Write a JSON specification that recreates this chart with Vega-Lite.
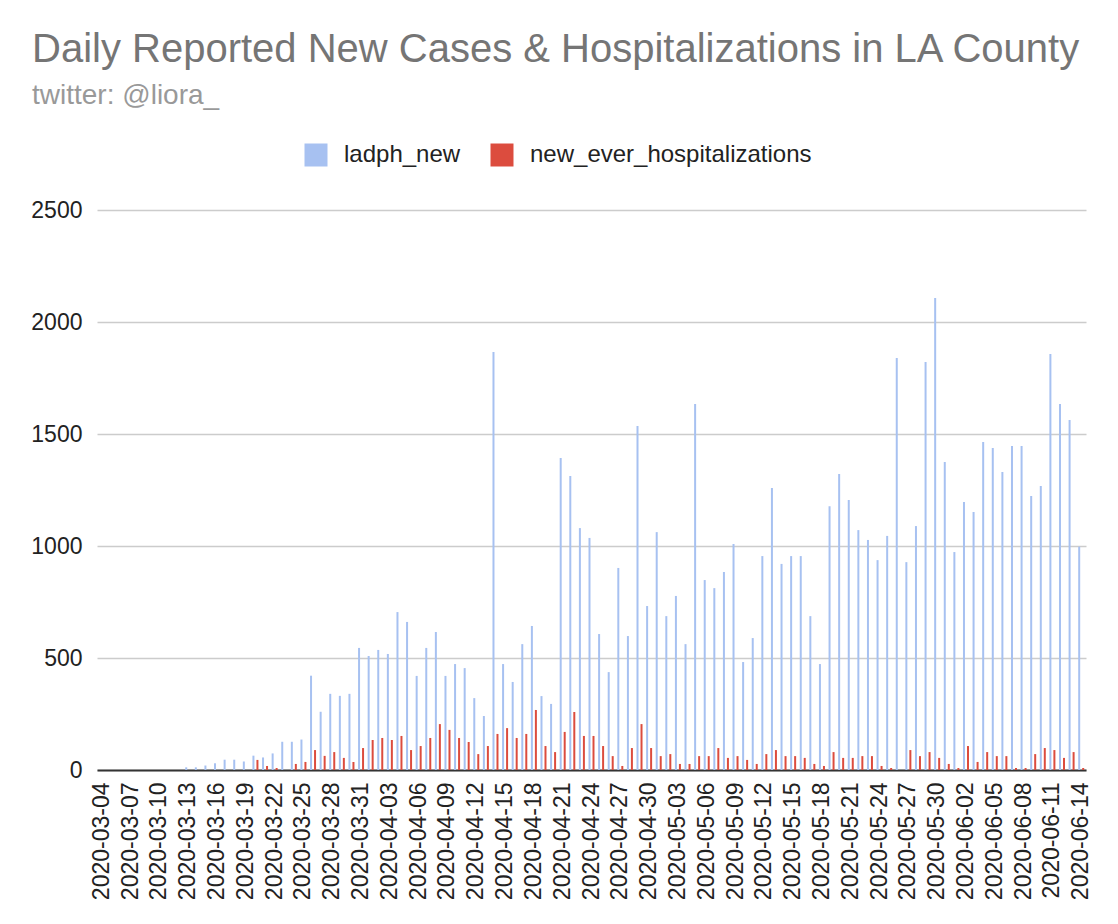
{
  "$schema": "https://vega.github.io/schema/vega-lite/v6.json",
  "autosize": "none",
  "width": 989,
  "height": 560,
  "padding": {"left": 97, "top": 210, "right": 32, "bottom": 154},
  "background": "white",
  "title": {
    "text": "Daily Reported New Cases & Hospitalizations in LA County",
    "subtitle": "twitter: @liora_",
    "anchor": "start",
    "frame": "group",
    "dx": -65,
    "offset": 33,
    "font": "Liberation Sans",
    "fontSize": 40,
    "fontWeight": "normal",
    "color": "#757575",
    "subtitleFont": "Liberation Sans",
    "subtitleFontSize": 28,
    "subtitleColor": "#999999",
    "subtitlePadding": 12
  },
  "data": {
    "values": [
      {"date": "2020-03-04", "series": "ladph_new", "value": 0}, {"date": "2020-03-04", "series": "new_ever_hospitalizations", "value": 0},
      {"date": "2020-03-05", "series": "ladph_new", "value": 0}, {"date": "2020-03-05", "series": "new_ever_hospitalizations", "value": 0},
      {"date": "2020-03-06", "series": "ladph_new", "value": 0}, {"date": "2020-03-06", "series": "new_ever_hospitalizations", "value": 0},
      {"date": "2020-03-07", "series": "ladph_new", "value": 0}, {"date": "2020-03-07", "series": "new_ever_hospitalizations", "value": 0},
      {"date": "2020-03-08", "series": "ladph_new", "value": 0}, {"date": "2020-03-08", "series": "new_ever_hospitalizations", "value": 0},
      {"date": "2020-03-09", "series": "ladph_new", "value": 0}, {"date": "2020-03-09", "series": "new_ever_hospitalizations", "value": 0},
      {"date": "2020-03-10", "series": "ladph_new", "value": 0}, {"date": "2020-03-10", "series": "new_ever_hospitalizations", "value": 0},
      {"date": "2020-03-11", "series": "ladph_new", "value": 0}, {"date": "2020-03-11", "series": "new_ever_hospitalizations", "value": 0},
      {"date": "2020-03-12", "series": "ladph_new", "value": 0}, {"date": "2020-03-12", "series": "new_ever_hospitalizations", "value": 0},
      {"date": "2020-03-13", "series": "ladph_new", "value": 12}, {"date": "2020-03-13", "series": "new_ever_hospitalizations", "value": 0},
      {"date": "2020-03-14", "series": "ladph_new", "value": 12}, {"date": "2020-03-14", "series": "new_ever_hospitalizations", "value": 0},
      {"date": "2020-03-15", "series": "ladph_new", "value": 20}, {"date": "2020-03-15", "series": "new_ever_hospitalizations", "value": 0},
      {"date": "2020-03-16", "series": "ladph_new", "value": 30}, {"date": "2020-03-16", "series": "new_ever_hospitalizations", "value": 0},
      {"date": "2020-03-17", "series": "ladph_new", "value": 46}, {"date": "2020-03-17", "series": "new_ever_hospitalizations", "value": 0},
      {"date": "2020-03-18", "series": "ladph_new", "value": 46}, {"date": "2020-03-18", "series": "new_ever_hospitalizations", "value": 0},
      {"date": "2020-03-19", "series": "ladph_new", "value": 38}, {"date": "2020-03-19", "series": "new_ever_hospitalizations", "value": 0},
      {"date": "2020-03-20", "series": "ladph_new", "value": 64}, {"date": "2020-03-20", "series": "new_ever_hospitalizations", "value": 45},
      {"date": "2020-03-21", "series": "ladph_new", "value": 56}, {"date": "2020-03-21", "series": "new_ever_hospitalizations", "value": 18},
      {"date": "2020-03-22", "series": "ladph_new", "value": 74}, {"date": "2020-03-22", "series": "new_ever_hospitalizations", "value": 9},
      {"date": "2020-03-23", "series": "ladph_new", "value": 126}, {"date": "2020-03-23", "series": "new_ever_hospitalizations", "value": 0},
      {"date": "2020-03-24", "series": "ladph_new", "value": 126}, {"date": "2020-03-24", "series": "new_ever_hospitalizations", "value": 27},
      {"date": "2020-03-25", "series": "ladph_new", "value": 136}, {"date": "2020-03-25", "series": "new_ever_hospitalizations", "value": 36},
      {"date": "2020-03-26", "series": "ladph_new", "value": 421}, {"date": "2020-03-26", "series": "new_ever_hospitalizations", "value": 89},
      {"date": "2020-03-27", "series": "ladph_new", "value": 260}, {"date": "2020-03-27", "series": "new_ever_hospitalizations", "value": 63},
      {"date": "2020-03-28", "series": "ladph_new", "value": 340}, {"date": "2020-03-28", "series": "new_ever_hospitalizations", "value": 80},
      {"date": "2020-03-29", "series": "ladph_new", "value": 331}, {"date": "2020-03-29", "series": "new_ever_hospitalizations", "value": 54},
      {"date": "2020-03-30", "series": "ladph_new", "value": 340}, {"date": "2020-03-30", "series": "new_ever_hospitalizations", "value": 36},
      {"date": "2020-03-31", "series": "ladph_new", "value": 545}, {"date": "2020-03-31", "series": "new_ever_hospitalizations", "value": 98},
      {"date": "2020-04-01", "series": "ladph_new", "value": 509}, {"date": "2020-04-01", "series": "new_ever_hospitalizations", "value": 134},
      {"date": "2020-04-02", "series": "ladph_new", "value": 536}, {"date": "2020-04-02", "series": "new_ever_hospitalizations", "value": 143},
      {"date": "2020-04-03", "series": "ladph_new", "value": 518}, {"date": "2020-04-03", "series": "new_ever_hospitalizations", "value": 134},
      {"date": "2020-04-04", "series": "ladph_new", "value": 705}, {"date": "2020-04-04", "series": "new_ever_hospitalizations", "value": 152},
      {"date": "2020-04-05", "series": "ladph_new", "value": 661}, {"date": "2020-04-05", "series": "new_ever_hospitalizations", "value": 89},
      {"date": "2020-04-06", "series": "ladph_new", "value": 420}, {"date": "2020-04-06", "series": "new_ever_hospitalizations", "value": 107},
      {"date": "2020-04-07", "series": "ladph_new", "value": 545}, {"date": "2020-04-07", "series": "new_ever_hospitalizations", "value": 143},
      {"date": "2020-04-08", "series": "ladph_new", "value": 616}, {"date": "2020-04-08", "series": "new_ever_hospitalizations", "value": 205},
      {"date": "2020-04-09", "series": "ladph_new", "value": 420}, {"date": "2020-04-09", "series": "new_ever_hospitalizations", "value": 179},
      {"date": "2020-04-10", "series": "ladph_new", "value": 473}, {"date": "2020-04-10", "series": "new_ever_hospitalizations", "value": 143},
      {"date": "2020-04-11", "series": "ladph_new", "value": 455}, {"date": "2020-04-11", "series": "new_ever_hospitalizations", "value": 125},
      {"date": "2020-04-12", "series": "ladph_new", "value": 321}, {"date": "2020-04-12", "series": "new_ever_hospitalizations", "value": 71},
      {"date": "2020-04-13", "series": "ladph_new", "value": 241}, {"date": "2020-04-13", "series": "new_ever_hospitalizations", "value": 107},
      {"date": "2020-04-14", "series": "ladph_new", "value": 1866}, {"date": "2020-04-14", "series": "new_ever_hospitalizations", "value": 161},
      {"date": "2020-04-15", "series": "ladph_new", "value": 473}, {"date": "2020-04-15", "series": "new_ever_hospitalizations", "value": 187},
      {"date": "2020-04-16", "series": "ladph_new", "value": 393}, {"date": "2020-04-16", "series": "new_ever_hospitalizations", "value": 143},
      {"date": "2020-04-17", "series": "ladph_new", "value": 562}, {"date": "2020-04-17", "series": "new_ever_hospitalizations", "value": 161},
      {"date": "2020-04-18", "series": "ladph_new", "value": 643}, {"date": "2020-04-18", "series": "new_ever_hospitalizations", "value": 268},
      {"date": "2020-04-19", "series": "ladph_new", "value": 330}, {"date": "2020-04-19", "series": "new_ever_hospitalizations", "value": 107},
      {"date": "2020-04-20", "series": "ladph_new", "value": 295}, {"date": "2020-04-20", "series": "new_ever_hospitalizations", "value": 80},
      {"date": "2020-04-21", "series": "ladph_new", "value": 1393}, {"date": "2020-04-21", "series": "new_ever_hospitalizations", "value": 170},
      {"date": "2020-04-22", "series": "ladph_new", "value": 1312}, {"date": "2020-04-22", "series": "new_ever_hospitalizations", "value": 259},
      {"date": "2020-04-23", "series": "ladph_new", "value": 1080}, {"date": "2020-04-23", "series": "new_ever_hospitalizations", "value": 152},
      {"date": "2020-04-24", "series": "ladph_new", "value": 1036}, {"date": "2020-04-24", "series": "new_ever_hospitalizations", "value": 152},
      {"date": "2020-04-25", "series": "ladph_new", "value": 607}, {"date": "2020-04-25", "series": "new_ever_hospitalizations", "value": 107},
      {"date": "2020-04-26", "series": "ladph_new", "value": 437}, {"date": "2020-04-26", "series": "new_ever_hospitalizations", "value": 62},
      {"date": "2020-04-27", "series": "ladph_new", "value": 902}, {"date": "2020-04-27", "series": "new_ever_hospitalizations", "value": 18},
      {"date": "2020-04-28", "series": "ladph_new", "value": 598}, {"date": "2020-04-28", "series": "new_ever_hospitalizations", "value": 98},
      {"date": "2020-04-29", "series": "ladph_new", "value": 1536}, {"date": "2020-04-29", "series": "new_ever_hospitalizations", "value": 205},
      {"date": "2020-04-30", "series": "ladph_new", "value": 732}, {"date": "2020-04-30", "series": "new_ever_hospitalizations", "value": 98},
      {"date": "2020-05-01", "series": "ladph_new", "value": 1062}, {"date": "2020-05-01", "series": "new_ever_hospitalizations", "value": 62},
      {"date": "2020-05-02", "series": "ladph_new", "value": 687}, {"date": "2020-05-02", "series": "new_ever_hospitalizations", "value": 71},
      {"date": "2020-05-03", "series": "ladph_new", "value": 777}, {"date": "2020-05-03", "series": "new_ever_hospitalizations", "value": 27},
      {"date": "2020-05-04", "series": "ladph_new", "value": 562}, {"date": "2020-05-04", "series": "new_ever_hospitalizations", "value": 27},
      {"date": "2020-05-05", "series": "ladph_new", "value": 1634}, {"date": "2020-05-05", "series": "new_ever_hospitalizations", "value": 62},
      {"date": "2020-05-06", "series": "ladph_new", "value": 848}, {"date": "2020-05-06", "series": "new_ever_hospitalizations", "value": 62},
      {"date": "2020-05-07", "series": "ladph_new", "value": 812}, {"date": "2020-05-07", "series": "new_ever_hospitalizations", "value": 98},
      {"date": "2020-05-08", "series": "ladph_new", "value": 884}, {"date": "2020-05-08", "series": "new_ever_hospitalizations", "value": 54},
      {"date": "2020-05-09", "series": "ladph_new", "value": 1009}, {"date": "2020-05-09", "series": "new_ever_hospitalizations", "value": 62},
      {"date": "2020-05-10", "series": "ladph_new", "value": 482}, {"date": "2020-05-10", "series": "new_ever_hospitalizations", "value": 45},
      {"date": "2020-05-11", "series": "ladph_new", "value": 589}, {"date": "2020-05-11", "series": "new_ever_hospitalizations", "value": 27},
      {"date": "2020-05-12", "series": "ladph_new", "value": 955}, {"date": "2020-05-12", "series": "new_ever_hospitalizations", "value": 71},
      {"date": "2020-05-13", "series": "ladph_new", "value": 1259}, {"date": "2020-05-13", "series": "new_ever_hospitalizations", "value": 89},
      {"date": "2020-05-14", "series": "ladph_new", "value": 920}, {"date": "2020-05-14", "series": "new_ever_hospitalizations", "value": 62},
      {"date": "2020-05-15", "series": "ladph_new", "value": 955}, {"date": "2020-05-15", "series": "new_ever_hospitalizations", "value": 62},
      {"date": "2020-05-16", "series": "ladph_new", "value": 955}, {"date": "2020-05-16", "series": "new_ever_hospitalizations", "value": 54},
      {"date": "2020-05-17", "series": "ladph_new", "value": 687}, {"date": "2020-05-17", "series": "new_ever_hospitalizations", "value": 27},
      {"date": "2020-05-18", "series": "ladph_new", "value": 473}, {"date": "2020-05-18", "series": "new_ever_hospitalizations", "value": 18},
      {"date": "2020-05-19", "series": "ladph_new", "value": 1178}, {"date": "2020-05-19", "series": "new_ever_hospitalizations", "value": 80},
      {"date": "2020-05-20", "series": "ladph_new", "value": 1321}, {"date": "2020-05-20", "series": "new_ever_hospitalizations", "value": 54},
      {"date": "2020-05-21", "series": "ladph_new", "value": 1205}, {"date": "2020-05-21", "series": "new_ever_hospitalizations", "value": 54},
      {"date": "2020-05-22", "series": "ladph_new", "value": 1071}, {"date": "2020-05-22", "series": "new_ever_hospitalizations", "value": 62},
      {"date": "2020-05-23", "series": "ladph_new", "value": 1027}, {"date": "2020-05-23", "series": "new_ever_hospitalizations", "value": 62},
      {"date": "2020-05-24", "series": "ladph_new", "value": 937}, {"date": "2020-05-24", "series": "new_ever_hospitalizations", "value": 18},
      {"date": "2020-05-25", "series": "ladph_new", "value": 1045}, {"date": "2020-05-25", "series": "new_ever_hospitalizations", "value": 9},
      {"date": "2020-05-26", "series": "ladph_new", "value": 1839}, {"date": "2020-05-26", "series": "new_ever_hospitalizations", "value": 0},
      {"date": "2020-05-27", "series": "ladph_new", "value": 928}, {"date": "2020-05-27", "series": "new_ever_hospitalizations", "value": 89},
      {"date": "2020-05-28", "series": "ladph_new", "value": 1089}, {"date": "2020-05-28", "series": "new_ever_hospitalizations", "value": 62},
      {"date": "2020-05-29", "series": "ladph_new", "value": 1821}, {"date": "2020-05-29", "series": "new_ever_hospitalizations", "value": 80},
      {"date": "2020-05-30", "series": "ladph_new", "value": 2107}, {"date": "2020-05-30", "series": "new_ever_hospitalizations", "value": 54},
      {"date": "2020-05-31", "series": "ladph_new", "value": 1375}, {"date": "2020-05-31", "series": "new_ever_hospitalizations", "value": 27},
      {"date": "2020-06-01", "series": "ladph_new", "value": 973}, {"date": "2020-06-01", "series": "new_ever_hospitalizations", "value": 9},
      {"date": "2020-06-02", "series": "ladph_new", "value": 1196}, {"date": "2020-06-02", "series": "new_ever_hospitalizations", "value": 107},
      {"date": "2020-06-03", "series": "ladph_new", "value": 1152}, {"date": "2020-06-03", "series": "new_ever_hospitalizations", "value": 36},
      {"date": "2020-06-04", "series": "ladph_new", "value": 1464}, {"date": "2020-06-04", "series": "new_ever_hospitalizations", "value": 80},
      {"date": "2020-06-05", "series": "ladph_new", "value": 1437}, {"date": "2020-06-05", "series": "new_ever_hospitalizations", "value": 62},
      {"date": "2020-06-06", "series": "ladph_new", "value": 1330}, {"date": "2020-06-06", "series": "new_ever_hospitalizations", "value": 62},
      {"date": "2020-06-07", "series": "ladph_new", "value": 1446}, {"date": "2020-06-07", "series": "new_ever_hospitalizations", "value": 9},
      {"date": "2020-06-08", "series": "ladph_new", "value": 1446}, {"date": "2020-06-08", "series": "new_ever_hospitalizations", "value": 9},
      {"date": "2020-06-09", "series": "ladph_new", "value": 1223}, {"date": "2020-06-09", "series": "new_ever_hospitalizations", "value": 71},
      {"date": "2020-06-10", "series": "ladph_new", "value": 1268}, {"date": "2020-06-10", "series": "new_ever_hospitalizations", "value": 98},
      {"date": "2020-06-11", "series": "ladph_new", "value": 1857}, {"date": "2020-06-11", "series": "new_ever_hospitalizations", "value": 89},
      {"date": "2020-06-12", "series": "ladph_new", "value": 1634}, {"date": "2020-06-12", "series": "new_ever_hospitalizations", "value": 54},
      {"date": "2020-06-13", "series": "ladph_new", "value": 1562}, {"date": "2020-06-13", "series": "new_ever_hospitalizations", "value": 80},
      {"date": "2020-06-14", "series": "ladph_new", "value": 997}, {"date": "2020-06-14", "series": "new_ever_hospitalizations", "value": 9}
    ]
  },
  "mark": {"type": "bar"},
  "encoding": {
    "x": {
      "field": "date",
      "type": "ordinal",
      "title": null,
      "scale": {"paddingInner": 0, "paddingOuter": 0},
      "axis": {
        "labelExpr": "indexof(['2020-03-04', '2020-03-07', '2020-03-10', '2020-03-13', '2020-03-16', '2020-03-19', '2020-03-22', '2020-03-25', '2020-03-28', '2020-03-31', '2020-04-03', '2020-04-06', '2020-04-09', '2020-04-12', '2020-04-15', '2020-04-18', '2020-04-21', '2020-04-24', '2020-04-27', '2020-04-30', '2020-05-03', '2020-05-06', '2020-05-09', '2020-05-12', '2020-05-15', '2020-05-18', '2020-05-21', '2020-05-24', '2020-05-27', '2020-05-30', '2020-06-02', '2020-06-05', '2020-06-08', '2020-06-11', '2020-06-14'], datum.value) >= 0 ? datum.value : ''",
        "labelAngle": -90,
        "labelFont": "Liberation Sans",
        "labelFontSize": 23,
        "labelColor": "#222222",
        "labelPadding": 12,
        "labelOverlap": false,
        "ticks": false,
        "domainColor": "#333333",
        "domainWidth": 2,
        "grid": false
      }
    },
    "xOffset": {
      "field": "series",
      "scale": {"paddingInner": 0.5, "paddingOuter": 0.45}
    },
    "y": {
      "field": "value",
      "type": "quantitative",
      "title": null,
      "scale": {"domain": [0, 2500], "nice": false},
      "axis": {
        "values": [0, 500, 1000, 1500, 2000, 2500],
        "format": "d",
        "labelFont": "Liberation Sans",
        "labelFontSize": 23,
        "labelColor": "#222222",
        "labelPadding": 15,
        "ticks": false,
        "domain": false,
        "gridColor": "#cccccc",
        "gridWidth": 1.5
      }
    },
    "color": {
      "field": "series",
      "type": "nominal",
      "scale": {
        "domain": ["ladph_new", "new_ever_hospitalizations"],
        "range": ["#a7c1f1", "#dc4c3e"]
      },
      "legend": {
        "title": null,
        "orient": "none",
        "legendX": 207,
        "legendY": -67,
        "direction": "horizontal",
        "symbolType": "square",
        "symbolSize": 529,
        "symbolStrokeWidth": 0,
        "symbolOpacity": 1,
        "labelFont": "Liberation Sans",
        "labelFontSize": 24,
        "labelColor": "#222222",
        "labelOffset": 16,
        "labelLimit": 0,
        "columnPadding": 29
      }
    }
  },
  "config": {
    "view": {"stroke": null}
  }
}
